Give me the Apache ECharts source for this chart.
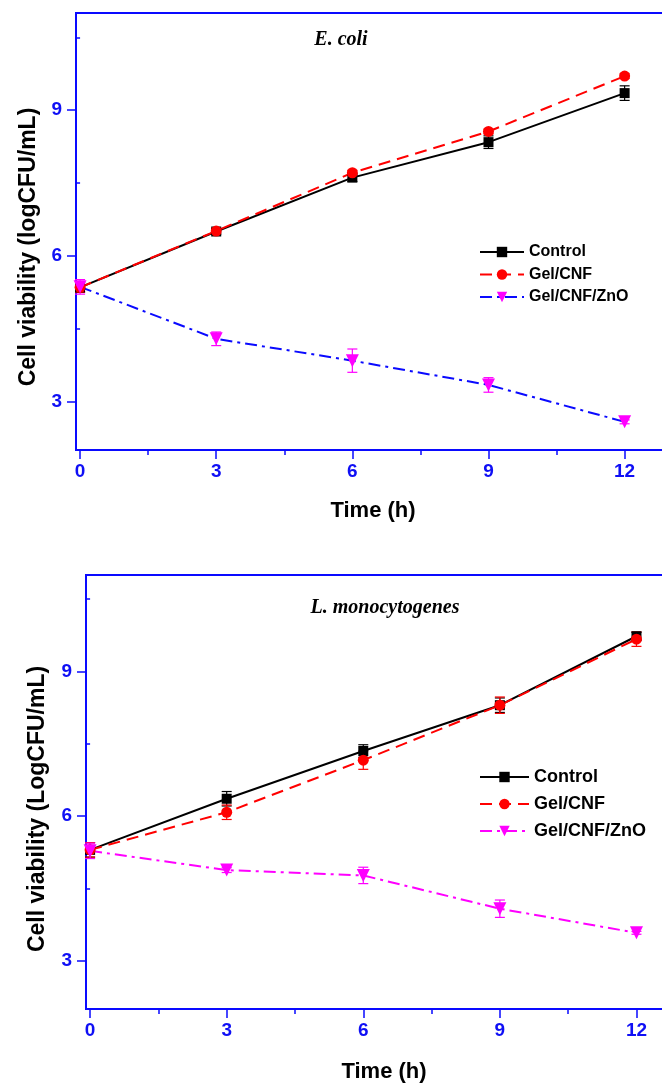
<!DOCTYPE html>
<html>
<head>
<meta charset="utf-8">
<script src="https://cdn.jsdelivr.net/npm/echarts@6/dist/echarts.min.js"></script>
<style>
  html, body { margin: 0; padding: 0; background: #fff; overflow: hidden; width: 662px; height: 1088px; }
  .chart { position: absolute; left: 0; width: 690px; height: 544px; }
  #ecoli { top: 0; }
  #listeria { top: 544px; }
</style>
</head>
<body>
<div id="ecoli" class="chart"></div>
<div id="listeria" class="chart"></div>
<script>
// shared axes
const timeH = [0, 3, 6, 9, 12]
const xTickLabels = [0, 3, 6, 9, 12]
const xMinorTicks = [1.5, 4.5, 7.5, 10.5]
const yTickLabels = [3, 6, 9]
const yMinorTicks = [4.5, 7.5, 10.5]
const seriesNames = ['Control', 'Gel/CNF', 'Gel/CNF/ZnO']

// E. coli (logCFU/mL), mean and error
const ecoliControl = [5.35, 6.50, 7.61, 8.34, 9.35]
const ecoliControlErr = [0.10, 0.06, 0.08, 0.13, 0.15]
const ecoliGel = [5.35, 6.51, 7.71, 8.56, 9.70]
const ecoliGelErr = [0.10, 0.05, 0.05, 0.05, 0.05]
const ecoliZnO = [5.36, 4.29, 3.84, 3.34, 2.58]
const ecoliZnOErr = [0.15, 0.14, 0.24, 0.15, 0.04]

// L. monocytogenes (LogCFU/mL)
const listControl = [5.30, 6.36, 7.35, 8.30, 9.73]
const listControlErr = [0.15, 0.15, 0.13, 0.15, 0.08]
const listGel = [5.30, 6.08, 7.16, 8.30, 9.67]
const listGelErr = [0.15, 0.15, 0.19, 0.17, 0.15]
const listZnO = [5.28, 4.88, 4.77, 4.08, 3.58]
const listZnOErr = [0.16, 0.05, 0.17, 0.18, 0.03]

const axisBlue = '#0a0aff'
const labelBlue = '#0f0ff5'
const font = '"Liberation Sans", Arial, sans-serif'

function lineSeries(name, values, color, lineColor, dash, symbol, size, rotate) {
  return {
    type: 'line',
    name: name,
    data: timeH.map((t, i) => [t, values[i]]),
    symbol: symbol,
    symbolSize: size,
    symbolRotate: rotate || 0,
    itemStyle: { color: color },
    lineStyle: { color: lineColor, width: 2, type: dash },
    z: 3,
    animation: false
  }
}

function errorBars(values, errs, color) {
  return {
    type: 'custom',
    silent: true,
    z: 2,
    animation: false,
    encode: { x: 0, y: [1, 2] },
    data: timeH.map((t, i) => [t, values[i] - errs[i], values[i] + errs[i]]),
    renderItem(params, api) {
      const x = api.value(0)
      const lo = api.coord([x, api.value(1)])
      const hi = api.coord([x, api.value(2)])
      const cap = 5
      const st = () => ({ stroke: color, lineWidth: 1.2 })
      return {
        type: 'group',
        children: [
          { type: 'line', shape: { x1: lo[0], y1: lo[1], x2: hi[0], y2: hi[1] }, style: st() },
          { type: 'line', shape: { x1: lo[0] - cap, y1: lo[1], x2: lo[0] + cap, y2: lo[1] }, style: st() },
          { type: 'line', shape: { x1: hi[0] - cap, y1: hi[1], x2: hi[0] + cap, y2: hi[1] }, style: st() }
        ]
      }
    }
  }
}

function buildOption(cfg) {
  const tickStyle = { color: axisBlue, width: 1.5 }
  const tickLabel = { color: labelBlue, fontWeight: 700, fontSize: 19, fontFamily: font }
  return {
    animation: false,
    grid: {
      left: cfg.grid[0], top: cfg.grid[1], right: cfg.grid[2], bottom: cfg.grid[3],
      show: true, borderColor: axisBlue, borderWidth: 2
    },
    xAxis: [
      {
        type: 'value', min: -0.09, max: 13,
        name: 'Time (h)', nameLocation: 'middle', nameGap: cfg.xNameGap,
        nameTextStyle: { color: '#000', fontWeight: 'bold', fontSize: 22, fontFamily: font },
        axisLine: { show: true, onZero: false, lineStyle: { color: axisBlue, width: 2 } },
        axisTick: { show: true, length: 9, customValues: xTickLabels, lineStyle: tickStyle },
        axisLabel: Object.assign({ customValues: xTickLabels, margin: 12 }, tickLabel),
        splitLine: { show: false }
      },
      {
        type: 'value', min: -0.09, max: 13, position: 'bottom',
        axisLine: { show: false },
        axisTick: { show: true, length: 5, customValues: xMinorTicks, lineStyle: tickStyle },
        axisLabel: { show: false },
        splitLine: { show: false }
      }
    ],
    yAxis: [
      {
        type: 'value', min: 2, max: 11,
        axisLine: { show: true, onZero: false, lineStyle: { color: axisBlue, width: 2 } },
        axisTick: { show: true, length: 9, customValues: yTickLabels, lineStyle: tickStyle },
        axisLabel: Object.assign({ customValues: yTickLabels, margin: 14 }, tickLabel),
        splitLine: { show: false }
      },
      {
        type: 'value', min: 2, max: 11, position: 'left',
        axisLine: { show: false },
        axisTick: { show: true, length: 5, customValues: yMinorTicks, lineStyle: tickStyle },
        axisLabel: { show: false },
        splitLine: { show: false }
      }
    ],
    legend: {
      orient: 'vertical',
      left: cfg.legend.left, top: cfg.legend.top,
      padding: 0,
      itemWidth: cfg.legend.itemWidth, itemHeight: 13, itemGap: cfg.legend.gap,
      textStyle: { color: '#000', fontWeight: 'bold', fontSize: cfg.legend.fontSize, fontFamily: font },
      data: seriesNames
    },
    graphic: [
      {
        type: 'text', x: cfg.title[1], y: cfg.title[2],
        style: {
          text: cfg.title[0], font: 'italic bold 20px "Liberation Serif", "Times New Roman", serif',
          fill: '#000', align: 'center', verticalAlign: 'middle', textAlign: 'center', textVerticalAlign: 'middle'
        }
      },
      {
        type: 'text', x: cfg.yName[1], y: cfg.yName[2], rotation: Math.PI / 2,
        style: {
          text: cfg.yName[0], font: 'bold 23px ' + font,
          fill: '#000', align: 'center', verticalAlign: 'middle', textAlign: 'center', textVerticalAlign: 'middle'
        }
      }
    ],
    series: cfg.series
  }
}

const ecoliChart = echarts.init(document.getElementById('ecoli'))
ecoliChart.setOption(buildOption({
  grid: [76, 13, 20, 94],
  xNameGap: 50,
  legend: { left: 479, top: 244, itemWidth: 44, gap: 6.5, fontSize: 16 },
  title: ['E. coli', 341, 40],
  yName: ['Cell viability (logCFU/mL)', 29, 247],
  series: [
    errorBars(ecoliControl, ecoliControlErr, '#000'),
    errorBars(ecoliGel, ecoliGelErr, '#ff0000'),
    errorBars(ecoliZnO, ecoliZnOErr, '#ff00ff'),
    lineSeries('Control', ecoliControl, '#000', '#000', 'solid', 'rect', 10),
    lineSeries('Gel/CNF', ecoliGel, '#ff0000', '#ff0000', [12, 7], 'circle', 11),
    lineSeries('Gel/CNF/ZnO', ecoliZnO, '#ff00ff', '#0a0aff', [12, 5, 3, 5], 'triangle', 13, 180)
  ]
}))

const listChart = echarts.init(document.getElementById('listeria'))
listChart.setOption(buildOption({
  grid: [86, 31, 8, 77],
  xNameGap: 52,
  legend: { left: 479, top: 224, itemWidth: 49, gap: 9, fontSize: 18 },
  title: ['L. monocytogenes', 385, 64],
  yName: ['Cell viability (LogCFU/mL)', 38, 265],
  series: [
    errorBars(listControl, listControlErr, '#000'),
    errorBars(listGel, listGelErr, '#ff0000'),
    errorBars(listZnO, listZnOErr, '#ff00ff'),
    lineSeries('Control', listControl, '#000', '#000', 'solid', 'rect', 10),
    lineSeries('Gel/CNF', listGel, '#ff0000', '#ff0000', [12, 7], 'circle', 11),
    lineSeries('Gel/CNF/ZnO', listZnO, '#ff00ff', '#ff00ff', [12, 5, 3, 5], 'triangle', 13, 180)
  ]
}))

window.addEventListener('resize', () => {
  ecoliChart.resize()
  listChart.resize()
})
</script>
</body>
</html>
